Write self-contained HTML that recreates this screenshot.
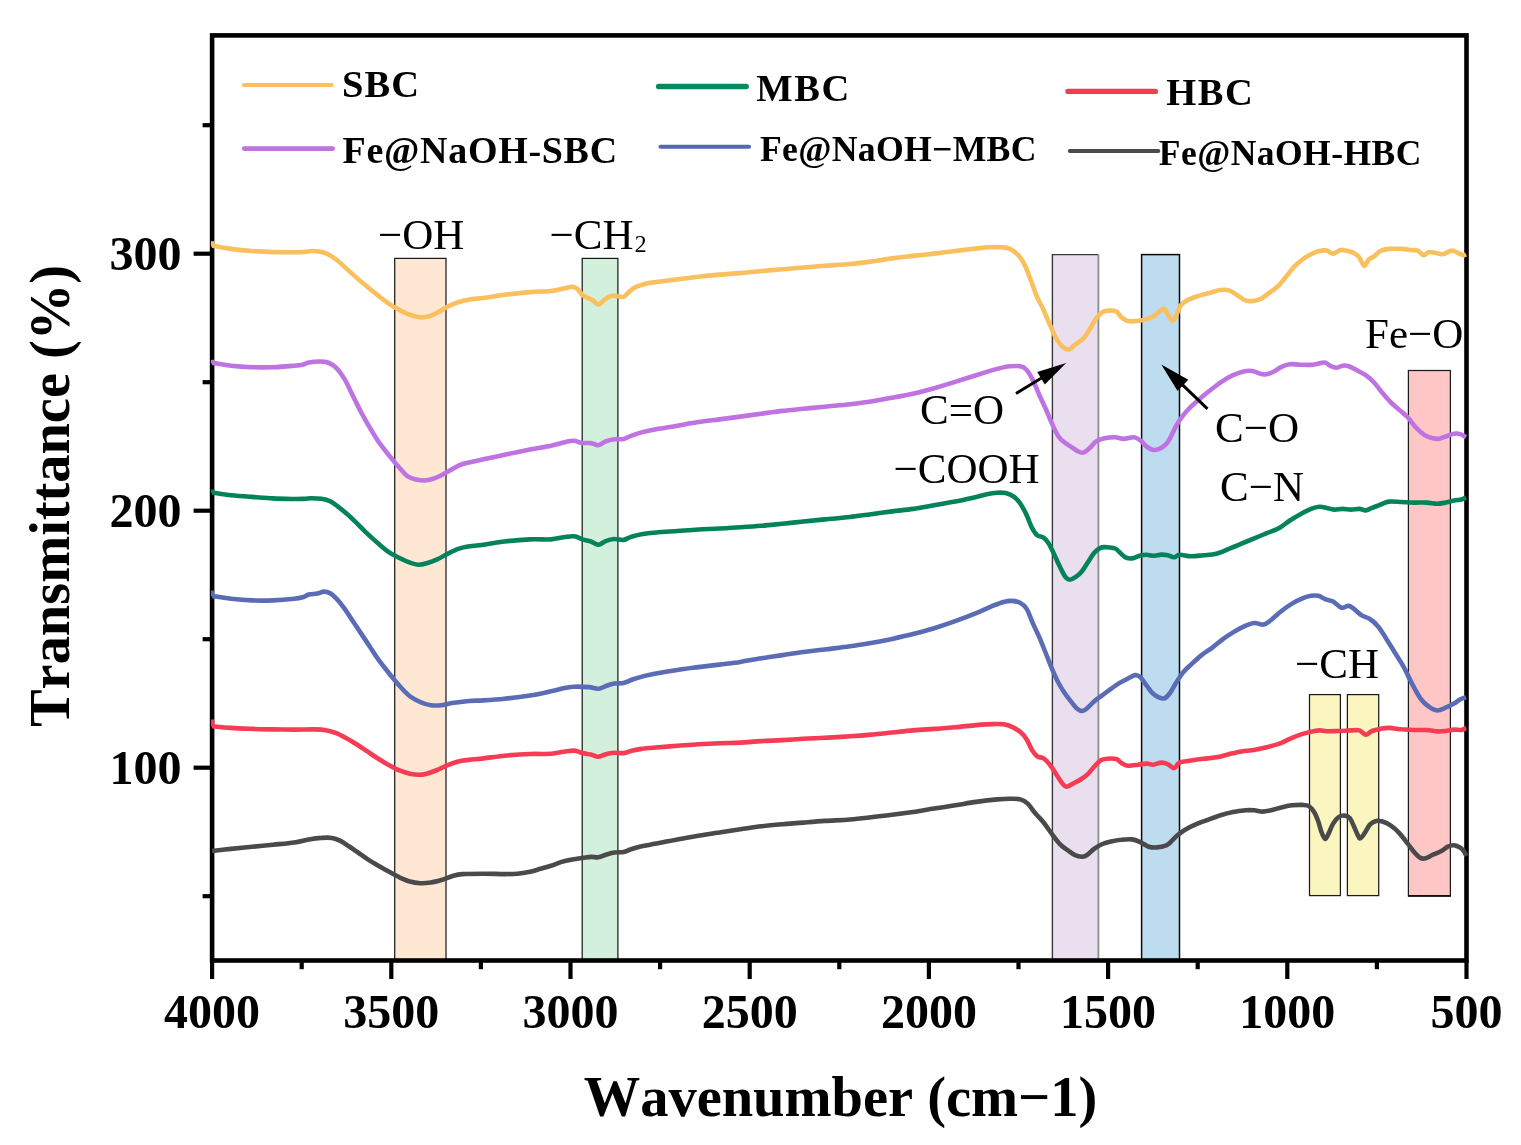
<!DOCTYPE html>
<html lang="en"><head><meta charset="utf-8"><title>FTIR spectra</title>
<style>html,body{margin:0;padding:0;background:#fff;}svg{display:block;}text{font-family:"Liberation Serif","Times New Roman",serif;fill:#000;font-kerning:none;}.b{font-weight:bold;}.ann{font-size:43px;}.tk{font-size:48px;font-weight:bold;}.lg{font-weight:bold;}.c{fill:none;stroke-width:4.6;stroke-linecap:butt;stroke-linejoin:round;}.r{stroke:#1c1c1c;stroke-width:1.25;}</style></head><body>
<svg width="1521" height="1145" viewBox="0 0 1521 1145">
<rect x="0" y="0" width="1521" height="1145" fill="#ffffff"/>
<g>
<rect class="r" x="394.7" y="258.4" width="51.3" height="702.1" fill="#FFE8D3"/>
<rect class="r" x="582.2" y="258.4" width="35.7" height="702.1" fill="#D3F0DC"/>
<rect x="1052.4" y="254.6" width="46.0" height="705.9" fill="#E9DFEF"/>
<path d="M1052.4,960.5V254.6H1098.4" fill="none" stroke="#3a3a3a" stroke-width="1.4"/>
<line x1="1098.4" y1="254.6" x2="1098.4" y2="960.5" stroke="#8c8c8c" stroke-width="1.8"/>
<rect x="1141.6" y="254.6" width="37.9" height="705.9" fill="#BDDCF0" stroke="#0a0a0a" stroke-width="1.5"/>
<rect class="r" x="1309.5" y="694.6" width="30.9" height="201.0" fill="#FBF5BF"/>
<rect class="r" x="1347.4" y="694.6" width="31.3" height="201.0" fill="#FBF5BF"/>
<rect class="r" x="1408.4" y="370.5" width="42.0" height="525.3" fill="#FFC6C6"/>
<line x1="1408" y1="896" x2="1450.9" y2="896" stroke="#000" stroke-width="1.6"/>
</g>
<rect x="212.1" y="35.4" width="1254.4" height="925.1" fill="none" stroke="#000" stroke-width="4.6"/>
<g stroke="#000" stroke-width="4.2">
<line x1="212.1" y1="960.5" x2="212.1" y2="979.0"/>
<line x1="391.3" y1="960.5" x2="391.3" y2="979.0"/>
<line x1="570.5" y1="960.5" x2="570.5" y2="979.0"/>
<line x1="749.7" y1="960.5" x2="749.7" y2="979.0"/>
<line x1="928.9" y1="960.5" x2="928.9" y2="979.0"/>
<line x1="1108.1" y1="960.5" x2="1108.1" y2="979.0"/>
<line x1="1287.3" y1="960.5" x2="1287.3" y2="979.0"/>
<line x1="1466.5" y1="960.5" x2="1466.5" y2="979.0"/>
<line x1="301.7" y1="960.5" x2="301.7" y2="969.2"/>
<line x1="480.9" y1="960.5" x2="480.9" y2="969.2"/>
<line x1="660.1" y1="960.5" x2="660.1" y2="969.2"/>
<line x1="839.3" y1="960.5" x2="839.3" y2="969.2"/>
<line x1="1018.5" y1="960.5" x2="1018.5" y2="969.2"/>
<line x1="1197.7" y1="960.5" x2="1197.7" y2="969.2"/>
<line x1="1376.9" y1="960.5" x2="1376.9" y2="969.2"/>
<line x1="193.6" y1="253.7" x2="212.1" y2="253.7"/>
<line x1="193.6" y1="510.7" x2="212.1" y2="510.7"/>
<line x1="193.6" y1="767.7" x2="212.1" y2="767.7"/>
<line x1="202.6" y1="125.2" x2="212.1" y2="125.2"/>
<line x1="202.6" y1="382.2" x2="212.1" y2="382.2"/>
<line x1="202.6" y1="639.2" x2="212.1" y2="639.2"/>
<line x1="202.6" y1="896.2" x2="212.1" y2="896.2"/>
</g>
<g>
<path class="c" stroke="#F9C05D" d="M212.1,245.6C215.2,246.2 224.3,248.0 231.0,248.9C237.7,249.8 245.1,250.5 252.1,251.0C259.1,251.5 266.1,251.9 273.1,252.1C280.1,252.3 288.9,252.3 294.2,252.3C299.5,252.3 301.9,252.1 304.7,251.9C307.5,251.7 308.6,251.1 311.0,251.0C313.4,250.9 316.6,251.0 319.4,251.5C322.2,252.0 325.0,252.9 327.8,254.2C330.6,255.5 333.0,257.1 336.2,259.5C339.4,261.9 343.3,265.8 346.8,268.9C350.3,272.0 353.8,275.3 357.3,278.4C360.8,281.4 364.3,284.3 367.8,287.2C371.3,290.1 374.8,292.9 378.3,295.6C381.8,298.3 385.3,301.2 388.8,303.6C392.3,306.0 395.9,308.1 399.4,310.0C402.9,311.9 406.4,313.6 409.9,314.8C413.4,316.0 417.2,317.1 420.4,317.3C423.5,317.6 426.0,317.1 428.8,316.3C431.6,315.5 434.4,314.1 437.2,312.7C440.0,311.3 442.8,309.3 445.6,307.8C448.4,306.3 451.3,304.8 454.1,303.6C456.9,302.5 459.4,301.7 462.5,300.9C465.6,300.1 469.5,299.5 473.0,299.0C476.5,298.5 478.2,298.7 483.5,298.0C488.8,297.3 496.9,295.8 504.6,294.8C512.4,293.8 522.3,292.7 530.0,292.1C537.7,291.5 545.4,291.6 551.0,291.0C556.6,290.4 560.2,289.2 563.7,288.5C567.2,287.8 569.8,286.7 572.1,286.8C574.4,286.9 575.5,287.5 577.3,288.9C579.0,290.3 580.7,293.6 582.6,295.2C584.5,296.8 587.1,297.5 588.9,298.4C590.6,299.3 591.5,299.4 593.1,300.5C594.7,301.6 596.6,304.7 598.4,304.7C600.1,304.7 601.7,301.9 603.6,300.5C605.5,299.1 607.9,297.1 610.0,296.3C612.1,295.5 614.0,295.8 616.3,295.9C618.6,296.0 621.5,297.5 623.6,296.9C625.7,296.3 627.0,293.7 628.9,292.1C630.8,290.5 632.4,288.6 635.2,287.2C638.0,285.8 642.2,284.6 645.7,283.7C649.2,282.8 650.9,282.7 656.2,282.0C661.5,281.3 670.3,280.3 677.3,279.4C684.3,278.5 691.3,277.5 698.3,276.7C705.3,275.9 712.4,275.2 719.4,274.6C726.4,274.0 733.4,273.7 740.4,273.1C747.4,272.5 754.4,271.6 761.4,271.0C768.4,270.4 775.5,269.9 782.5,269.3C789.5,268.7 796.5,268.1 803.5,267.5C810.5,266.9 816.9,266.4 824.6,265.8C832.4,265.2 842.3,264.7 850.0,264.0C857.7,263.3 864.0,262.5 871.0,261.6C878.0,260.7 885.1,259.3 892.1,258.4C899.1,257.4 906.1,256.7 913.1,255.9C920.1,255.1 927.2,254.4 934.2,253.6C941.2,252.8 948.2,251.8 955.2,251.0C962.2,250.2 970.6,249.1 976.2,248.5C981.8,247.9 984.7,247.5 988.9,247.3C993.1,247.1 998.0,247.0 1001.5,247.3C1005.0,247.6 1007.1,247.6 1009.9,248.9C1012.7,250.2 1015.8,252.6 1018.3,255.2C1020.8,257.8 1022.5,260.5 1024.6,264.7C1026.7,268.9 1028.8,275.1 1030.9,280.5C1033.0,285.9 1035.1,292.4 1037.2,297.3C1039.3,302.2 1041.5,305.4 1043.6,310.0C1045.7,314.6 1047.8,320.0 1049.9,324.7C1052.0,329.4 1054.1,334.7 1056.2,338.4C1058.3,342.1 1060.4,344.9 1062.5,346.8C1064.6,348.7 1066.7,349.9 1068.8,349.5C1070.9,349.1 1072.6,346.6 1075.1,344.7C1077.5,342.8 1081.0,341.0 1083.5,338.4C1086.0,335.8 1087.8,332.2 1089.9,328.9C1092.0,325.6 1094.1,321.2 1096.2,318.4C1098.3,315.6 1100.4,313.4 1102.5,312.1C1104.6,310.8 1106.5,310.7 1108.8,310.6C1111.1,310.5 1114.1,310.3 1116.2,311.4C1118.3,312.5 1119.5,315.7 1121.4,317.3C1123.3,318.9 1124.9,320.5 1127.7,321.1C1130.5,321.7 1134.7,321.3 1138.2,320.9C1141.7,320.4 1146.0,319.3 1148.8,318.4C1151.6,317.4 1152.6,316.8 1155.1,315.2C1157.5,313.6 1161.4,309.1 1163.5,308.9C1165.6,308.7 1166.2,312.2 1167.7,314.2C1169.2,316.2 1171.1,320.7 1172.5,320.9C1173.9,321.1 1175.0,317.7 1176.3,315.2C1177.6,312.7 1178.8,308.1 1180.5,305.7C1182.2,303.2 1184.0,302.1 1186.8,300.5C1189.6,298.9 1193.5,297.6 1197.4,296.3C1201.3,295.0 1206.2,293.8 1210.0,292.7C1213.8,291.6 1217.3,290.4 1220.5,290.0C1223.7,289.6 1226.1,289.5 1228.9,290.4C1231.7,291.3 1234.7,293.6 1237.3,295.2C1239.9,296.8 1242.2,299.1 1244.7,300.1C1247.2,301.1 1249.5,301.3 1252.1,301.1C1254.7,300.9 1257.7,300.3 1260.5,299.0C1263.3,297.7 1266.1,295.1 1268.9,293.1C1271.7,291.1 1274.5,289.4 1277.3,286.8C1280.1,284.2 1282.9,280.6 1285.7,277.3C1288.5,274.0 1291.3,269.8 1294.1,266.8C1296.9,263.8 1299.7,261.6 1302.5,259.5C1305.3,257.4 1308.2,255.6 1311.0,254.2C1313.8,252.8 1316.8,251.6 1319.4,251.0C1322.0,250.4 1324.4,250.2 1326.7,250.6C1329.0,251.0 1330.8,253.7 1333.1,253.6C1335.4,253.5 1338.3,250.5 1340.4,250.0C1342.5,249.5 1343.6,250.0 1345.7,250.4C1347.8,250.8 1350.9,251.7 1353.0,252.7C1355.1,253.7 1356.9,254.8 1358.3,256.3C1359.7,257.8 1360.5,260.0 1361.5,261.6C1362.5,263.2 1363.4,266.2 1364.6,265.8C1365.8,265.4 1367.2,261.1 1368.8,259.5C1370.4,257.9 1372.2,257.7 1374.1,256.3C1376.0,254.9 1378.0,252.2 1380.4,251.0C1382.9,249.8 1385.3,249.2 1388.8,248.9C1392.3,248.6 1397.5,248.7 1401.4,248.9C1405.3,249.1 1409.2,249.7 1412.0,250.0C1414.8,250.3 1416.4,250.1 1418.3,251.0C1420.2,251.9 1421.8,255.0 1423.5,255.2C1425.2,255.4 1426.9,252.5 1428.8,252.1C1430.7,251.7 1432.8,252.3 1435.1,252.7C1437.4,253.0 1439.7,254.5 1442.5,254.2C1445.3,253.8 1449.3,250.8 1451.9,250.6C1454.5,250.4 1456.3,252.3 1458.2,253.1C1460.1,253.9 1462.2,255.0 1463.5,255.2C1464.8,255.4 1465.6,254.4 1466.0,254.2"/>
<path class="c" stroke="#BF72E1" d="M212.1,362.8C215.2,363.3 224.3,365.0 231.0,365.7C237.7,366.4 245.1,366.9 252.1,367.2C259.1,367.4 266.1,367.4 273.1,367.2C280.1,366.9 289.3,366.1 294.2,365.7C299.1,365.3 300.2,365.2 302.6,364.7C305.1,364.2 306.1,363.0 308.9,362.5C311.7,362.0 316.2,361.5 319.4,361.5C322.5,361.5 325.0,361.4 327.8,362.5C330.6,363.6 333.4,365.0 336.2,367.8C339.0,370.6 341.9,374.7 344.7,379.4C347.5,384.1 350.3,390.6 353.1,396.2C355.9,401.8 358.7,407.7 361.5,413.0C364.3,418.3 367.1,423.1 369.9,427.8C372.7,432.5 375.1,436.8 378.3,441.4C381.5,445.9 385.3,450.7 388.8,455.1C392.3,459.5 396.2,464.2 399.4,467.7C402.6,471.2 405.0,474.3 407.8,476.3C410.6,478.3 413.4,478.8 416.2,479.5C419.0,480.2 421.8,480.6 424.6,480.5C427.4,480.4 430.2,479.7 433.0,478.8C435.8,477.9 438.6,476.7 441.4,475.3C444.2,473.9 446.4,472.4 449.9,470.5C453.4,468.6 456.9,465.9 462.5,464.0C468.1,462.1 476.5,460.9 483.5,459.3C490.5,457.8 496.9,456.3 504.6,454.7C512.4,453.1 522.3,451.0 530.0,449.5C537.7,448.0 545.0,447.0 551.0,445.7C557.0,444.4 561.9,442.7 565.8,441.9C569.7,441.1 571.6,440.6 574.2,440.8C576.8,441.0 578.7,442.5 581.5,442.9C584.3,443.3 588.2,442.7 591.0,443.1C593.8,443.5 595.9,445.5 598.4,445.2C600.9,444.9 603.1,442.4 605.7,441.4C608.3,440.4 611.2,439.7 614.2,439.3C617.2,438.9 620.8,439.5 623.6,438.9C626.4,438.3 628.0,436.9 631.0,435.8C634.0,434.7 637.3,433.5 641.5,432.4C645.7,431.3 650.2,430.3 656.2,429.2C662.2,428.1 670.3,426.9 677.3,425.7C684.3,424.5 691.3,423.2 698.3,422.1C705.3,421.1 712.4,420.3 719.4,419.4C726.4,418.5 733.4,417.6 740.4,416.6C747.4,415.7 754.4,414.6 761.4,413.7C768.4,412.8 775.5,411.7 782.5,410.9C789.5,410.1 796.5,409.5 803.5,408.8C810.5,408.1 816.9,407.5 824.6,406.7C832.4,405.9 842.3,405.1 850.0,404.2C857.7,403.3 864.0,402.6 871.0,401.5C878.0,400.4 885.1,399.0 892.1,397.7C899.1,396.4 906.1,395.3 913.1,393.7C920.1,392.1 927.2,390.2 934.2,388.2C941.2,386.2 948.2,384.1 955.2,381.9C962.2,379.7 969.2,377.4 976.2,375.2C983.2,373.0 991.7,370.4 997.3,368.9C1002.9,367.4 1006.0,366.7 1009.9,366.3C1013.8,365.9 1017.6,365.7 1020.4,366.3C1023.2,366.9 1024.6,367.5 1026.7,369.9C1028.8,372.2 1030.9,376.2 1033.0,380.4C1035.1,384.6 1037.3,390.5 1039.4,395.2C1041.5,399.9 1043.6,404.1 1045.7,408.8C1047.8,413.5 1049.9,419.0 1052.0,423.6C1054.1,428.2 1056.2,433.1 1058.3,436.2C1060.4,439.3 1062.5,440.8 1064.6,442.5C1066.7,444.2 1068.8,445.3 1070.9,446.7C1073.0,448.1 1075.1,449.9 1077.2,450.9C1079.3,451.9 1081.4,453.1 1083.5,452.6C1085.6,452.1 1087.8,449.7 1089.9,447.8C1092.0,445.9 1093.8,443.0 1096.2,441.4C1098.7,439.8 1101.4,439.0 1104.6,438.3C1107.8,437.6 1111.9,437.1 1115.1,437.2C1118.2,437.3 1120.3,438.9 1123.5,438.9C1126.7,438.9 1131.2,436.9 1134.0,437.2C1136.8,437.4 1138.2,438.8 1140.3,440.4C1142.4,442.0 1144.6,445.1 1146.7,446.7C1148.8,448.3 1150.9,449.5 1153.0,449.9C1155.1,450.2 1157.2,449.7 1159.3,448.8C1161.4,447.9 1163.8,446.4 1165.6,444.6C1167.4,442.9 1168.2,441.5 1170.0,438.3C1171.8,435.1 1174.2,429.4 1176.3,425.7C1178.4,422.0 1180.1,419.4 1182.6,416.2C1185.0,413.0 1187.8,409.8 1191.0,406.7C1194.2,403.6 1198.1,400.3 1201.6,397.3C1205.1,394.3 1208.6,391.5 1212.1,388.8C1215.6,386.1 1219.1,383.4 1222.6,381.1C1226.1,378.8 1229.6,376.8 1233.1,375.2C1236.6,373.6 1240.4,372.1 1243.6,371.4C1246.8,370.7 1249.6,370.7 1252.1,371.0C1254.6,371.3 1256.3,372.5 1258.4,373.1C1260.5,373.7 1262.2,374.7 1264.7,374.5C1267.2,374.3 1270.3,373.3 1273.1,372.0C1275.9,370.7 1278.7,368.1 1281.5,366.8C1284.3,365.5 1286.8,364.6 1289.9,364.2C1293.1,363.8 1296.5,364.6 1300.4,364.7C1304.3,364.8 1309.1,365.1 1313.1,364.7C1317.1,364.3 1321.8,362.3 1324.6,362.5C1327.4,362.7 1328.0,364.8 1329.9,365.7C1331.8,366.6 1334.1,367.8 1336.2,367.8C1338.3,367.8 1340.4,365.9 1342.5,365.7C1344.6,365.4 1346.3,365.5 1348.8,366.3C1351.3,367.1 1354.5,369.0 1357.3,370.5C1360.1,372.0 1362.9,373.2 1365.7,375.2C1368.5,377.2 1371.3,379.5 1374.1,382.5C1376.9,385.5 1379.7,389.8 1382.5,393.1C1385.3,396.4 1388.1,399.7 1390.9,402.5C1393.7,405.3 1396.5,407.4 1399.3,409.9C1402.1,412.4 1404.9,414.3 1407.7,417.3C1410.5,420.3 1413.4,424.8 1416.2,427.8C1419.0,430.8 1421.8,433.4 1424.6,435.1C1427.4,436.9 1430.5,437.7 1433.0,438.3C1435.5,438.9 1436.8,439.1 1439.3,438.7C1441.8,438.3 1445.2,436.6 1447.7,435.8C1450.2,435.0 1451.9,434.0 1454.0,433.7C1456.1,433.4 1458.4,433.5 1460.4,434.1C1462.4,434.7 1465.1,436.7 1466.0,437.2"/>
<path class="c" stroke="#04835B" d="M212.1,492.5C215.2,492.9 224.3,494.5 231.0,495.2C237.7,495.9 245.1,496.4 252.1,496.9C259.1,497.4 266.1,498.0 273.1,498.4C280.1,498.8 288.9,498.9 294.2,499.0C299.5,499.1 301.9,498.9 304.7,498.8C307.5,498.7 308.2,498.2 311.0,498.2C313.8,498.2 318.4,498.3 321.5,498.8C324.6,499.3 327.1,499.8 329.9,501.1C332.7,502.4 335.5,504.7 338.3,506.8C341.1,508.9 343.6,511.0 346.8,513.8C350.0,516.6 353.8,520.3 357.3,523.7C360.8,527.1 364.3,530.9 367.8,534.2C371.3,537.5 374.8,540.6 378.3,543.6C381.8,546.6 385.3,549.7 388.8,552.1C392.3,554.5 395.9,556.1 399.4,557.9C402.9,559.6 406.8,561.5 409.9,562.6C413.0,563.7 415.5,564.6 418.3,564.7C421.1,564.8 423.6,564.1 426.7,563.2C429.8,562.3 433.7,561.0 437.2,559.4C440.7,557.8 444.2,555.5 447.7,553.7C451.2,552.0 455.1,550.0 458.3,548.9C461.5,547.8 462.5,547.5 466.7,546.8C470.9,546.1 477.2,545.6 483.5,544.7C489.8,543.8 496.9,542.4 504.6,541.5C512.4,540.6 522.3,539.8 530.0,539.4C537.7,539.0 545.4,539.8 551.0,539.4C556.6,539.0 559.8,537.8 563.7,537.3C567.6,536.8 571.1,535.9 574.2,536.3C577.4,536.6 579.8,538.5 582.6,539.4C585.4,540.3 588.4,540.6 591.0,541.5C593.6,542.4 595.9,544.8 598.4,544.7C600.9,544.6 603.1,542.1 605.7,541.1C608.3,540.1 611.2,539.2 614.2,539.0C617.2,538.8 620.8,540.2 623.6,539.9C626.4,539.5 628.0,537.8 631.0,536.9C634.0,536.0 637.3,534.9 641.5,534.2C645.7,533.5 650.2,533.0 656.2,532.5C662.2,532.0 670.3,531.5 677.3,531.0C684.3,530.5 691.3,529.9 698.3,529.5C705.3,529.1 712.4,528.9 719.4,528.5C726.4,528.1 733.4,527.7 740.4,527.2C747.4,526.8 754.4,526.4 761.4,525.8C768.4,525.2 775.5,524.4 782.5,523.7C789.5,523.0 796.5,522.2 803.5,521.5C810.5,520.8 816.9,520.1 824.6,519.4C832.4,518.6 842.3,517.9 850.0,517.0C857.7,516.1 864.0,515.1 871.0,514.2C878.0,513.3 885.1,512.3 892.1,511.4C899.1,510.5 906.1,509.9 913.1,508.9C920.1,507.9 927.2,506.5 934.2,505.3C941.2,504.1 948.9,502.8 955.2,501.6C961.5,500.4 966.7,499.2 972.0,498.0C977.3,496.8 982.6,495.1 986.8,494.2C991.0,493.3 994.1,492.9 997.3,492.7C1000.4,492.5 1002.9,492.4 1005.7,493.1C1008.5,493.8 1011.7,495.1 1014.1,496.9C1016.5,498.7 1018.3,500.6 1020.4,503.7C1022.5,506.8 1024.8,511.2 1026.7,515.2C1028.6,519.2 1030.2,524.6 1032.0,527.9C1033.8,531.2 1035.3,533.6 1037.2,535.2C1039.1,536.8 1041.7,536.3 1043.6,537.7C1045.5,539.1 1047.0,540.9 1048.8,543.6C1050.5,546.4 1052.2,550.2 1054.1,554.2C1056.0,558.2 1058.5,563.9 1060.4,567.8C1062.3,571.6 1064.1,575.3 1065.7,577.3C1067.3,579.3 1068.3,579.8 1069.9,579.8C1071.5,579.8 1073.2,578.6 1075.1,577.3C1077.0,576.0 1079.3,574.5 1081.4,572.0C1083.5,569.5 1085.6,565.8 1087.7,562.6C1089.8,559.5 1092.0,555.6 1094.1,553.1C1096.2,550.6 1098.3,548.8 1100.4,547.8C1102.5,546.8 1104.2,547.1 1106.7,547.2C1109.2,547.3 1112.8,547.5 1115.1,548.5C1117.4,549.5 1118.7,551.6 1120.4,553.1C1122.2,554.6 1123.7,556.4 1125.6,557.3C1127.5,558.2 1129.5,558.7 1131.9,558.4C1134.4,558.1 1137.8,556.2 1140.3,555.6C1142.8,555.0 1144.6,554.8 1146.7,554.8C1148.8,554.8 1150.5,555.8 1153.0,555.8C1155.5,555.8 1159.0,554.7 1161.4,554.6C1163.9,554.5 1165.6,554.8 1167.7,555.2C1169.8,555.7 1172.2,557.4 1174.2,557.3C1176.2,557.2 1176.7,555.0 1179.5,554.8C1182.3,554.6 1187.0,556.2 1191.0,556.3C1195.0,556.4 1199.5,555.6 1203.7,555.2C1207.9,554.8 1212.1,554.8 1216.3,553.7C1220.5,552.7 1224.7,550.6 1228.9,548.9C1233.1,547.2 1237.3,545.4 1241.5,543.6C1245.7,541.9 1250.0,540.1 1254.2,538.4C1258.4,536.6 1262.6,534.9 1266.8,533.1C1271.0,531.4 1275.6,530.0 1279.4,527.9C1283.2,525.8 1286.4,522.8 1289.9,520.5C1293.4,518.2 1296.9,516.1 1300.4,514.2C1303.9,512.3 1307.8,510.1 1311.0,508.9C1314.2,507.7 1316.8,507.0 1319.4,506.8C1322.0,506.6 1324.2,507.4 1326.7,507.9C1329.2,508.4 1331.5,509.4 1334.1,509.6C1336.7,509.8 1339.7,508.9 1342.5,508.9C1345.3,508.9 1348.1,509.6 1350.9,509.6C1353.7,509.6 1356.9,508.8 1359.4,508.9C1361.9,509.0 1363.6,510.6 1365.7,510.4C1367.8,510.2 1369.5,508.8 1372.0,507.9C1374.5,506.9 1377.6,505.8 1380.4,504.7C1383.2,503.6 1385.3,502.1 1388.8,501.6C1392.3,501.2 1397.2,501.8 1401.4,502.0C1405.6,502.2 1409.9,502.5 1414.1,502.6C1418.3,502.7 1422.8,502.4 1426.7,502.6C1430.6,502.8 1434.1,503.7 1437.2,503.7C1440.3,503.7 1442.8,503.1 1445.6,502.6C1448.4,502.1 1451.4,501.0 1454.0,500.5C1456.6,500.0 1459.4,500.0 1461.4,499.5C1463.4,499.0 1465.2,497.8 1466.0,497.4"/>
<path class="c" stroke="#5A6CB6" d="M212.1,596.0C215.2,596.5 224.3,598.1 231.0,598.8C237.7,599.5 245.1,600.1 252.1,600.4C259.1,600.7 266.1,600.7 273.1,600.4C280.1,600.1 289.3,599.3 294.2,598.8C299.1,598.3 300.2,598.0 302.6,597.3C305.1,596.6 306.4,595.2 308.9,594.6C311.3,594.0 314.9,594.0 317.3,593.5C319.8,593.0 321.5,591.7 323.6,591.6C325.7,591.5 327.8,592.0 329.9,593.1C332.0,594.2 333.7,595.7 336.2,598.3C338.7,600.9 341.9,605.0 344.7,608.9C347.5,612.8 350.3,617.3 353.1,621.5C355.9,625.7 358.7,629.9 361.5,634.1C364.3,638.3 367.1,642.5 369.9,646.7C372.7,650.9 375.1,655.0 378.3,659.4C381.5,663.8 385.3,668.6 388.8,673.0C392.3,677.4 395.9,681.8 399.4,685.7C402.9,689.6 406.4,693.5 409.9,696.2C413.4,698.9 416.9,700.6 420.4,702.1C423.9,703.6 427.4,704.7 430.9,705.2C434.4,705.7 437.9,705.6 441.4,705.2C444.9,704.9 447.4,703.8 452.0,703.1C456.6,702.4 463.6,701.5 468.8,701.0C474.1,700.5 477.5,700.8 483.5,700.4C489.5,700.0 496.9,699.5 504.6,698.7C512.4,697.9 522.3,696.7 530.0,695.5C537.7,694.3 545.0,692.6 551.0,691.3C557.0,690.0 561.9,688.6 565.8,687.8C569.7,687.0 570.4,686.8 574.2,686.7C578.1,686.6 584.9,686.8 588.9,687.1C592.9,687.5 595.6,689.0 598.4,688.8C601.2,688.6 603.1,687.0 605.7,686.1C608.3,685.2 611.2,684.1 614.2,683.6C617.2,683.1 620.5,683.6 623.6,682.9C626.8,682.2 629.4,680.5 633.1,679.3C636.8,678.1 641.9,676.6 645.7,675.6C649.6,674.6 650.9,674.5 656.2,673.5C661.5,672.5 670.3,671.0 677.3,669.9C684.3,668.8 691.3,668.0 698.3,667.1C705.3,666.2 712.4,665.5 719.4,664.6C726.4,663.7 733.4,663.0 740.4,661.9C747.4,660.8 754.4,659.4 761.4,658.3C768.4,657.2 775.5,656.1 782.5,655.1C789.5,654.1 796.5,652.9 803.5,652.0C810.5,651.1 816.9,650.5 824.6,649.5C832.4,648.5 842.3,647.4 850.0,646.3C857.7,645.2 864.0,644.1 871.0,642.9C878.0,641.7 885.1,640.4 892.1,638.9C899.1,637.4 906.1,635.9 913.1,634.1C920.1,632.3 927.2,630.4 934.2,628.2C941.2,626.0 948.2,623.6 955.2,621.1C962.2,618.6 969.9,615.7 976.2,613.1C982.5,610.5 988.5,607.6 993.1,605.7C997.7,603.8 1000.5,602.7 1003.6,601.9C1006.8,601.1 1009.2,600.7 1012.0,600.9C1014.8,601.1 1017.9,601.7 1020.4,603.0C1022.9,604.3 1024.6,605.5 1026.7,608.9C1028.8,612.3 1030.9,618.9 1033.0,623.6C1035.1,628.3 1037.3,632.4 1039.4,637.3C1041.5,642.2 1043.6,647.8 1045.7,653.0C1047.8,658.2 1049.9,663.9 1052.0,668.8C1054.1,673.7 1056.2,678.5 1058.3,682.5C1060.4,686.5 1062.5,689.9 1064.6,693.0C1066.7,696.1 1068.8,698.8 1070.9,701.4C1073.0,704.0 1075.3,707.2 1077.2,708.8C1079.1,710.4 1080.8,711.2 1082.5,711.0C1084.2,710.8 1085.8,709.3 1087.7,707.7C1089.6,706.1 1091.6,703.5 1094.1,701.4C1096.6,699.3 1099.7,697.2 1102.5,695.1C1105.3,693.0 1108.1,690.8 1110.9,688.8C1113.7,686.8 1116.5,684.8 1119.3,683.1C1122.1,681.4 1125.1,680.0 1127.7,678.7C1130.3,677.4 1133.0,675.4 1135.1,675.1C1137.2,674.9 1138.4,675.4 1140.3,677.2C1142.2,679.0 1144.6,683.0 1146.7,685.7C1148.8,688.5 1150.9,691.7 1153.0,693.7C1155.1,695.7 1157.4,696.8 1159.3,697.6C1161.2,698.4 1162.7,699.1 1164.5,698.3C1166.3,697.5 1168.0,695.6 1170.0,693.0C1172.0,690.4 1174.2,685.8 1176.3,682.5C1178.4,679.2 1180.1,676.0 1182.6,673.0C1185.0,670.0 1187.8,667.6 1191.0,664.6C1194.2,661.6 1198.1,657.9 1201.6,655.1C1205.1,652.3 1208.6,650.4 1212.1,647.8C1215.6,645.2 1219.1,642.0 1222.6,639.4C1226.1,636.8 1229.6,634.5 1233.1,632.4C1236.6,630.3 1240.1,628.3 1243.6,626.7C1247.1,625.1 1250.9,623.4 1254.2,623.0C1257.5,622.6 1260.8,625.1 1263.6,624.6C1266.4,624.1 1268.0,622.3 1271.0,620.0C1274.0,617.7 1278.0,613.7 1281.5,611.0C1285.0,608.3 1288.5,605.7 1292.0,603.6C1295.5,601.5 1299.3,599.6 1302.5,598.3C1305.7,597.0 1308.4,596.2 1311.0,595.8C1313.6,595.4 1315.8,595.2 1318.3,595.8C1320.8,596.4 1323.2,598.4 1325.7,599.4C1328.2,600.4 1330.5,600.1 1333.1,601.5C1335.7,602.9 1338.9,607.1 1341.5,607.8C1344.1,608.5 1346.5,605.4 1348.8,605.7C1351.1,606.1 1353.0,608.3 1355.1,609.9C1357.2,611.5 1359.0,613.7 1361.5,615.2C1364.0,616.7 1367.1,617.1 1369.9,619.0C1372.7,620.9 1375.5,623.3 1378.3,626.7C1381.1,630.1 1383.9,635.0 1386.7,639.4C1389.5,643.8 1392.3,648.5 1395.1,653.0C1397.9,657.5 1400.7,661.6 1403.5,666.7C1406.3,671.8 1409.2,678.3 1412.0,683.6C1414.8,688.9 1417.6,694.4 1420.4,698.3C1423.2,702.1 1426.0,704.7 1428.8,706.7C1431.6,708.7 1434.4,710.3 1437.2,710.5C1440.0,710.7 1442.8,708.9 1445.6,707.7C1448.4,706.5 1451.5,704.9 1454.0,703.5C1456.5,702.1 1458.4,700.3 1460.4,699.3C1462.4,698.2 1465.1,697.6 1466.0,697.2"/>
<path class="c" stroke="#F63C54" d="M212.1,726.2C215.2,726.5 224.3,727.5 231.0,727.9C237.7,728.3 245.1,728.6 252.1,728.9C259.1,729.1 266.1,729.3 273.1,729.4C280.1,729.5 287.2,729.6 294.2,729.6C301.2,729.6 309.9,729.3 315.2,729.4C320.4,729.5 322.2,729.6 325.7,730.2C329.2,730.8 332.7,731.7 336.2,733.1C339.7,734.5 343.3,736.5 346.8,738.4C350.3,740.3 353.8,742.5 357.3,744.7C360.8,746.9 364.3,749.4 367.8,751.7C371.3,754.1 374.8,756.6 378.3,758.8C381.8,761.0 385.3,763.2 388.8,765.1C392.3,767.0 395.9,769.0 399.4,770.4C402.9,771.8 406.8,773.0 409.9,773.7C413.0,774.4 415.5,774.8 418.3,774.8C421.1,774.8 423.6,774.5 426.7,773.7C429.8,772.9 433.7,771.4 437.2,770.0C440.7,768.6 444.2,766.5 447.7,765.1C451.2,763.7 454.8,762.4 458.3,761.5C461.8,760.6 464.6,760.4 468.8,759.9C473.0,759.4 477.5,759.1 483.5,758.4C489.5,757.7 496.9,756.4 504.6,755.7C512.4,755.0 522.3,754.3 530.0,754.0C537.7,753.7 545.4,754.2 551.0,753.8C556.6,753.4 559.8,752.2 563.7,751.7C567.6,751.2 571.1,750.4 574.2,750.6C577.4,750.8 579.8,752.4 582.6,753.1C585.4,753.8 588.4,754.0 591.0,754.6C593.6,755.2 595.9,756.8 598.4,756.7C600.9,756.6 603.1,754.9 605.7,754.2C608.3,753.5 611.2,752.9 614.2,752.7C617.2,752.5 620.8,753.4 623.6,753.1C626.4,752.8 628.0,751.7 631.0,751.0C634.0,750.3 637.3,749.5 641.5,748.9C645.7,748.3 650.2,748.0 656.2,747.5C662.2,747.0 670.3,746.3 677.3,745.8C684.3,745.3 691.3,744.7 698.3,744.3C705.3,743.9 712.4,743.5 719.4,743.2C726.4,742.9 733.4,743.0 740.4,742.6C747.4,742.2 754.4,741.5 761.4,741.1C768.4,740.7 775.5,740.5 782.5,740.1C789.5,739.7 796.5,739.2 803.5,738.8C810.5,738.4 816.9,738.2 824.6,737.8C832.4,737.4 842.3,736.7 850.0,736.2C857.7,735.7 864.0,735.2 871.0,734.6C878.0,734.0 885.1,733.2 892.1,732.5C899.1,731.8 906.1,731.0 913.1,730.4C920.1,729.8 927.2,729.4 934.2,728.9C941.2,728.4 948.2,727.8 955.2,727.2C962.2,726.6 969.9,725.6 976.2,725.1C982.5,724.6 988.5,724.2 993.1,724.1C997.7,724.0 1000.5,723.8 1003.6,724.3C1006.8,724.8 1009.2,725.5 1012.0,726.8C1014.8,728.1 1017.9,730.0 1020.4,732.1C1022.9,734.2 1024.8,736.4 1026.7,739.4C1028.6,742.4 1030.2,747.2 1032.0,750.0C1033.8,752.8 1035.3,754.9 1037.2,756.3C1039.1,757.7 1041.5,757.0 1043.6,758.4C1045.7,759.8 1047.8,762.1 1049.9,764.7C1052.0,767.3 1054.1,771.1 1056.2,774.2C1058.3,777.4 1060.8,781.5 1062.5,783.6C1064.2,785.7 1065.0,786.8 1066.7,786.8C1068.5,786.8 1070.5,784.9 1073.0,783.6C1075.5,782.3 1079.0,780.6 1081.4,779.0C1083.9,777.4 1085.6,776.2 1087.7,774.2C1089.8,772.2 1092.0,769.1 1094.1,766.8C1096.2,764.5 1098.3,761.8 1100.4,760.5C1102.5,759.2 1104.1,759.0 1106.7,758.8C1109.3,758.5 1113.8,758.3 1116.2,759.0C1118.7,759.7 1119.5,761.9 1121.4,763.0C1123.3,764.1 1124.9,765.4 1127.7,765.7C1130.5,766.0 1135.0,765.1 1138.2,764.7C1141.4,764.4 1144.2,763.6 1146.7,763.6C1149.2,763.6 1150.5,764.9 1153.0,764.7C1155.5,764.5 1159.0,762.7 1161.4,762.6C1163.9,762.5 1165.6,763.2 1167.7,764.1C1169.8,765.0 1172.2,768.5 1174.2,768.3C1176.2,768.0 1176.7,763.9 1179.5,762.6C1182.3,761.3 1187.0,761.1 1191.0,760.5C1195.0,759.9 1199.5,759.3 1203.7,758.8C1207.9,758.3 1212.1,758.1 1216.3,757.3C1220.5,756.5 1224.7,755.2 1228.9,754.2C1233.1,753.2 1237.3,752.1 1241.5,751.4C1245.7,750.7 1250.0,750.7 1254.2,750.0C1258.4,749.3 1262.6,748.2 1266.8,747.2C1271.0,746.2 1275.6,745.1 1279.4,743.7C1283.2,742.3 1286.4,740.3 1289.9,738.8C1293.4,737.3 1296.9,735.8 1300.4,734.6C1303.9,733.4 1307.8,732.4 1311.0,731.7C1314.2,731.0 1316.8,730.5 1319.4,730.4C1322.0,730.3 1323.6,731.1 1326.7,731.2C1329.8,731.3 1334.3,731.1 1338.3,731.0C1342.3,730.9 1347.4,730.5 1350.9,730.4C1354.4,730.3 1356.9,729.7 1359.4,730.4C1361.9,731.1 1363.6,734.7 1365.7,734.8C1367.8,734.9 1369.5,732.0 1372.0,731.0C1374.5,730.0 1377.6,729.4 1380.4,728.9C1383.2,728.4 1385.3,727.8 1388.8,727.9C1392.3,728.0 1397.2,728.9 1401.4,729.3C1405.6,729.6 1409.9,729.9 1414.1,730.0C1418.3,730.1 1422.8,729.8 1426.7,730.0C1430.6,730.2 1434.1,731.2 1437.2,731.4C1440.3,731.6 1442.8,731.3 1445.6,731.0C1448.4,730.7 1451.4,729.8 1454.0,729.6C1456.6,729.4 1459.4,730.3 1461.4,730.0C1463.4,729.7 1465.2,728.2 1466.0,727.9"/>
<path class="c" stroke="#4A4A4A" d="M212.1,851.0C215.2,850.6 224.3,849.6 231.0,848.9C237.7,848.2 245.1,847.5 252.1,846.8C259.1,846.1 266.1,845.4 273.1,844.7C280.1,844.0 288.2,843.4 294.2,842.5C300.2,841.6 304.3,840.2 308.9,839.4C313.4,838.6 317.6,838.1 321.5,837.9C325.4,837.6 328.9,837.4 332.0,837.9C335.1,838.4 337.6,839.5 340.4,840.9C343.2,842.3 346.1,844.4 348.9,846.3C351.7,848.1 354.1,849.8 357.3,852.0C360.5,854.2 364.3,857.1 367.8,859.4C371.3,861.7 374.8,863.7 378.3,865.7C381.8,867.7 385.3,869.7 388.8,871.6C392.3,873.5 395.9,875.6 399.4,877.3C402.9,878.9 406.4,880.5 409.9,881.5C413.4,882.5 416.9,883.0 420.4,883.2C423.9,883.4 427.4,883.0 430.9,882.5C434.4,882.0 437.9,881.0 441.4,880.0C444.9,879.0 448.5,877.2 452.0,876.2C455.5,875.2 457.2,874.5 462.5,874.1C467.8,873.7 476.5,873.7 483.5,873.7C490.5,873.7 499.0,874.1 504.6,874.1C510.2,874.1 513.0,874.1 517.2,873.7C521.4,873.3 526.1,872.5 530.0,871.7C533.9,870.9 537.0,869.8 540.5,868.8C544.0,867.8 547.5,866.9 551.0,865.7C554.5,864.6 558.1,863.0 561.6,861.9C565.1,860.8 568.6,860.1 572.1,859.4C575.6,858.7 579.5,858.3 582.6,857.9C585.8,857.5 588.4,857.0 591.0,856.9C593.6,856.8 595.9,857.6 598.4,857.3C600.9,856.9 603.1,855.6 605.7,854.8C608.3,854.0 611.2,853.1 614.2,852.6C617.2,852.1 620.8,852.5 623.6,852.0C626.4,851.5 628.0,850.2 631.0,849.3C634.0,848.3 637.3,847.2 641.5,846.3C645.7,845.3 650.2,844.8 656.2,843.6C662.2,842.5 670.3,840.7 677.3,839.4C684.3,838.1 691.3,837.0 698.3,835.8C705.3,834.6 712.4,833.5 719.4,832.4C726.4,831.3 733.4,830.3 740.4,829.3C747.4,828.3 754.4,827.1 761.4,826.3C768.4,825.4 775.5,824.8 782.5,824.2C789.5,823.6 796.5,823.2 803.5,822.6C810.5,822.0 816.9,821.4 824.6,820.9C832.4,820.4 842.3,820.1 850.0,819.5C857.7,818.9 864.0,818.1 871.0,817.3C878.0,816.5 885.1,815.7 892.1,814.8C899.1,813.9 906.1,813.0 913.1,812.0C920.1,811.0 927.2,809.6 934.2,808.5C941.2,807.4 948.2,806.4 955.2,805.3C962.2,804.2 969.2,802.9 976.2,801.9C983.2,800.9 991.7,799.9 997.3,799.4C1002.9,798.9 1006.0,798.8 1009.9,798.8C1013.8,798.8 1017.4,798.6 1020.4,799.4C1023.4,800.2 1025.3,801.3 1027.8,803.6C1030.2,805.9 1032.5,810.0 1035.1,813.1C1037.7,816.2 1040.8,819.0 1043.6,822.5C1046.4,826.0 1049.2,830.4 1052.0,834.1C1054.8,837.8 1057.6,841.8 1060.4,844.6C1063.2,847.4 1066.3,849.2 1068.8,851.0C1071.2,852.8 1073.0,854.2 1075.1,855.2C1077.2,856.2 1079.5,856.8 1081.4,856.8C1083.3,856.8 1084.6,856.5 1086.7,855.2C1088.8,853.9 1091.5,850.7 1094.1,848.8C1096.7,846.9 1099.7,845.2 1102.5,844.0C1105.3,842.8 1107.8,842.2 1110.9,841.5C1114.1,840.8 1117.9,840.1 1121.4,839.8C1124.9,839.4 1128.8,839.0 1131.9,839.4C1135.1,839.8 1137.5,840.9 1140.3,842.1C1143.1,843.3 1146.0,845.8 1148.8,846.7C1151.6,847.6 1154.4,847.6 1157.2,847.4C1160.0,847.2 1163.5,846.5 1165.6,845.7C1167.7,844.9 1168.2,844.4 1170.0,842.8C1171.8,841.2 1173.8,838.4 1176.3,836.2C1178.8,834.1 1181.5,831.8 1184.7,829.9C1187.9,828.0 1191.3,826.4 1195.2,824.7C1199.1,823.0 1203.7,821.4 1207.9,819.8C1212.1,818.2 1216.3,816.5 1220.5,815.2C1224.7,813.9 1228.9,812.8 1233.1,812.0C1237.3,811.2 1242.2,810.6 1245.7,810.3C1249.2,810.0 1251.4,810.1 1254.2,810.3C1257.0,810.5 1259.8,811.6 1262.6,811.6C1265.4,811.6 1267.8,811.0 1271.0,810.3C1274.2,809.6 1278.0,808.2 1281.5,807.4C1285.0,806.6 1288.5,805.7 1292.0,805.3C1295.5,804.9 1299.7,804.8 1302.5,804.9C1305.3,805.0 1307.0,804.9 1308.9,806.1C1310.8,807.3 1312.5,809.4 1314.1,812.0C1315.7,814.6 1317.1,818.2 1318.3,821.5C1319.5,824.8 1320.4,829.1 1321.5,832.0C1322.6,834.9 1323.9,838.8 1325.1,839.0C1326.3,839.2 1327.5,835.7 1328.8,833.1C1330.1,830.5 1331.5,826.2 1333.1,823.6C1334.7,821.0 1336.4,818.6 1338.3,817.3C1340.2,816.0 1342.7,815.4 1344.6,815.6C1346.5,815.8 1348.3,816.4 1349.9,818.3C1351.5,820.2 1352.7,823.8 1354.1,826.8C1355.5,829.8 1357.2,834.3 1358.3,836.2C1359.3,838.1 1359.4,838.8 1360.4,838.3C1361.5,837.8 1363.0,835.4 1364.6,833.1C1366.2,830.8 1368.0,826.7 1369.9,824.7C1371.8,822.7 1374.1,821.4 1376.2,820.9C1378.3,820.4 1380.0,820.7 1382.5,821.5C1385.0,822.3 1388.1,823.8 1390.9,825.7C1393.7,827.6 1396.5,830.1 1399.3,833.1C1402.1,836.1 1405.2,840.5 1407.7,843.6C1410.2,846.8 1412.0,849.6 1414.1,852.0C1416.2,854.4 1418.5,856.9 1420.4,857.9C1422.3,858.9 1423.5,858.8 1425.6,858.3C1427.7,857.8 1430.4,855.9 1433.0,854.7C1435.6,853.5 1439.0,852.3 1441.4,851.0C1443.9,849.7 1445.6,847.7 1447.7,846.7C1449.8,845.8 1451.9,845.1 1454.0,845.3C1456.1,845.5 1458.7,846.8 1460.4,847.8C1462.1,848.8 1463.0,850.1 1464.0,851.5C1465.0,852.9 1465.9,855.2 1466.3,856.0"/>
<line x1="212.6" y1="241.2" x2="212.6" y2="246.5" stroke="#F9C05D" stroke-width="3.4"/>
<line x1="212.6" y1="359.8" x2="212.6" y2="363.5" stroke="#BF72E1" stroke-width="3.4"/>
<line x1="212.6" y1="489.5" x2="212.6" y2="493.0" stroke="#04835B" stroke-width="3.4"/>
<line x1="212.6" y1="590.5" x2="212.6" y2="596.5" stroke="#5A6CB6" stroke-width="3.4"/>
<line x1="212.6" y1="719.5" x2="212.6" y2="726.5" stroke="#F63C54" stroke-width="3.4"/>
</g>
<g class="tk" text-anchor="middle">
<text x="212.1" y="1028.3">4000</text>
<text x="391.3" y="1028.3">3500</text>
<text x="570.5" y="1028.3">3000</text>
<text x="749.7" y="1028.3">2500</text>
<text x="928.9" y="1028.3">2000</text>
<text x="1108.1" y="1028.3">1500</text>
<text x="1287.3" y="1028.3">1000</text>
<text x="1466.5" y="1028.3">500</text>
</g>
<g class="tk" text-anchor="end">
<text x="181.5" y="270">300</text>
<text x="181.5" y="527">200</text>
<text x="181.5" y="784">100</text>
</g>
<text class="b" x="840.5" y="1116" text-anchor="middle" font-size="56.5" textLength="513.5" lengthAdjust="spacing">Wavenumber (cm−1)</text>
<text class="b" transform="translate(68.6,496) rotate(-90)" text-anchor="middle" font-size="56.5" textLength="462" lengthAdjust="spacing">Transmittance (%)</text>
<g stroke-width="4" stroke-linecap="round">
<line x1="244.0" y1="85.0" x2="331.6" y2="85.0" stroke="#F9C05D" stroke-width="4.1"/>
<line x1="658.6" y1="86.5" x2="746.2" y2="86.5" stroke="#038A5E" stroke-width="5.4"/>
<line x1="1067.8" y1="91.4" x2="1155.5" y2="91.4" stroke="#F93B52" stroke-width="5.1"/>
<line x1="244.3" y1="148.6" x2="332.6" y2="148.6" stroke="#BF72E1" stroke-width="4.8"/>
<line x1="660.5" y1="146.8" x2="749.0" y2="146.8" stroke="#5467B5" stroke-width="4.1"/>
<line x1="1069.8" y1="151.0" x2="1158.3" y2="151.0" stroke="#4A4A4A" stroke-width="4.0"/>
</g>
<g class="lg">
<text x="342" y="97" font-size="38.5" textLength="77">SBC</text>
<text x="756.3" y="100.6" font-size="38.5" textLength="93">MBC</text>
<text x="1166.3" y="105.4" font-size="38.5" textLength="86.5">HBC</text>
<text x="342.6" y="162.6" font-size="38" textLength="274.5">Fe@NaOH-SBC</text>
<text x="760" y="160.5" font-size="35.7" textLength="276.5">Fe@NaOH−MBC</text>
<text x="1158.8" y="164.6" font-size="35.5" textLength="262.5">Fe@NaOH-HBC</text>
</g>
<g class="ann">
<text x="378" y="248.8">−OH</text>
<text x="549.5" y="248.8">−CH<tspan font-size="40" dy="-5.2">₂</tspan></text>
<text x="920" y="423.8">C=O</text>
<text x="893.5" y="483.2">−COOH</text>
<text x="1215" y="441.8">C−O</text>
<text x="1220" y="500.5">C−N</text>
<text x="1365" y="347.8">Fe−O</text>
<text x="1295" y="678.3">−CH</text>
</g>
<line x1="1016.0" y1="393.5" x2="1042.7" y2="377.3" stroke="#000" stroke-width="3.0"/><polygon points="1066.2,363.0 1044.8,384.5 1037.2,372.1" fill="#000"/>
<line x1="1207.5" y1="408.8" x2="1181.5" y2="383.9" stroke="#000" stroke-width="3.0"/><polygon points="1161.3,364.5 1188.3,379.7 1177.6,390.9" fill="#000"/>
</svg></body></html>
